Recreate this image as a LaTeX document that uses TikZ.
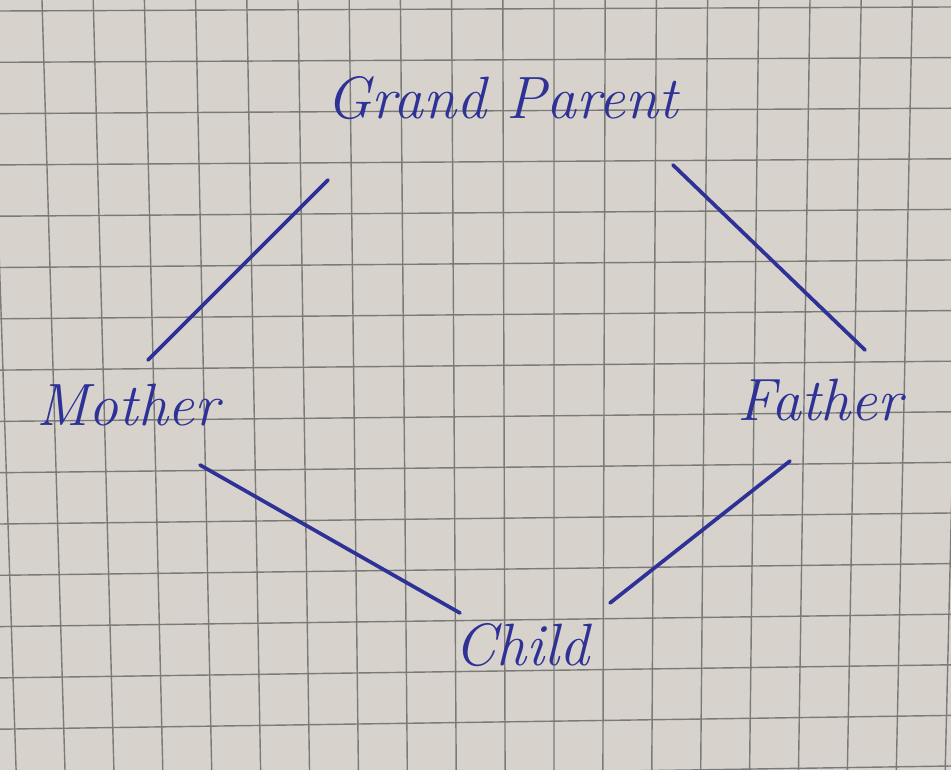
\documentclass[tikz,border=0pt]{standalone}
\usepackage{amsmath}
\usepackage{tikz}

\definecolor{paper}{RGB}{215,211,204}
\definecolor{gridgrey}{RGB}{122,122,120}
\definecolor{ink}{RGB}{46,50,150}

\begin{document}
\begin{tikzpicture}[x=0.02cm, y=-0.02cm,
    word/.style={text=ink, font=\fontsize{34}{36}\selectfont\itshape, inner sep=0pt},
    edge/.style={ink, line width=2.1pt, line cap=round},
    gridline/.style={gridgrey, line width=0.8pt}]
			\fill[paper] (0,0) rectangle (951,770);
			\begin{scope}
				\clip (0,0) rectangle (951,770);
				\foreach \i in {-1,...,18}
					\draw[gridline] ({42+51.2*\i},0) -- ({65+48.9*\i},770);
				\foreach \j in {0,...,15}
					\draw[gridline] (0,{11+51.3*\j}) -- (951,{7+50.6*\j});
			\end{scope}
			\node[word] (gp) at (502,98) {Grand Parent};
			\node[word] (mother) at (128,405) {Mother};
			\node[word] (father) at (820,400) {Father};
			\node[word] (child) at (522,645) {Child};
			\draw[edge] ([shift={(-174,82)}]gp.center) -- ([shift={(20,-45)}]mother.center);
			\draw[edge] ([shift={(171,67)}]gp.center) -- ([shift={(45,-50)}]father.center);
			\draw[edge] ([shift={(72,60)}]mother.center) -- ([shift={(-62,-32)}]child.center);
			\draw[edge] ([shift={(-30,61)}]father.center) -- ([shift={(88,-42)}]child.center);
		\end{tikzpicture}
\end{document}
